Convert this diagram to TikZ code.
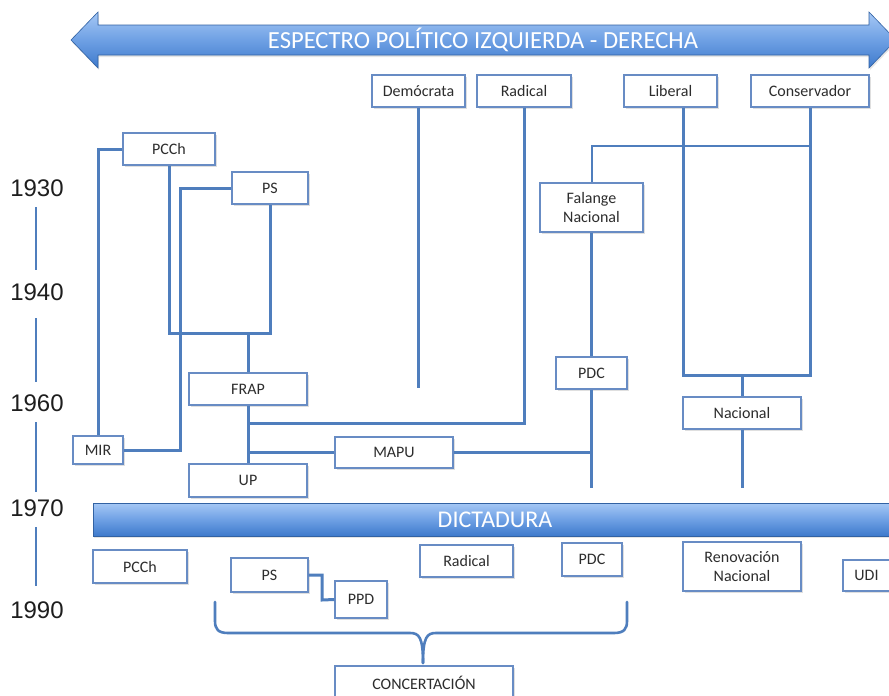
\documentclass[tikz,border=0pt]{standalone}
\usepackage{fontspec}
\setmainfont{Carlito}
\newfontfamily\yearfont{Liberation Sans}
\usetikzlibrary{shadows}
\definecolor{conncol}{RGB}{79,126,189}
\definecolor{boxcol}{RGB}{104,140,196}
\definecolor{txtcol}{RGB}{45,45,45}
\definecolor{gradtop}{RGB}{166,200,245}
\definecolor{gradmid}{RGB}{110,160,228}
\definecolor{gradbot}{RGB}{62,122,204}
\definecolor{yearcol}{RGB}{30,30,30}
\begin{document}
\begin{tikzpicture}[x=1pt,y=-1pt,
  pbox/.style={draw=boxcol,line width=1.1pt,fill=white,inner sep=0pt,
    text=txtcol,font=\fontsize{16}{19}\selectfont,align=center,
    drop shadow={opacity=0.25,shadow xshift=1.5pt,shadow yshift=-1.5pt}},
  conn/.style={draw=conncol,line width=3pt},
  thinconn/.style={draw=conncol,line width=2pt},
  yearline/.style={draw=conncol,line width=2.6pt},
  yearlab/.style={font=\yearfont\fontsize{24}{24}\selectfont,text=yearcol,inner sep=0pt},
  bartext/.style={font=\fontsize{24.6}{25}\selectfont,text=white,inner sep=0pt},
  gradfill/.style={top color=gradtop,bottom color=gradbot,middle color=gradmid,
    draw=gradbot!80!black,line width=0.6pt,
    drop shadow={opacity=0.2,shadow xshift=1pt,shadow yshift=-2pt}}]
\clip (0,0) rectangle (889,696);
\fill[white] (0,0) rectangle (889,696);

% top arrow
\path[gradfill] (71,40) -- (98,12) -- (98,25) -- (869,25) -- (869,12) -- (896,40)
  -- (869,68) -- (869,55) -- (98,55) -- (98,68) -- cycle;
\node[bartext] (spec) at (483,40) {ESPECTRO POLÍTICO IZQUIERDA - DERECHA};

% dictadura bar
\node[gradfill,inner sep=0pt,minimum width=804pt,minimum height=33pt,
  font=\fontsize{24}{24}\selectfont,text=white] (dict) at (495,519.5) {DICTADURA};

% years
\node[yearlab] (y1930) at (37,188) {1930};
\node[yearlab] (y1940) at (37,292) {1940};
\node[yearlab] (y1960) at (37,403) {1960};
\node[yearlab] (y1970) at (37,508) {1970};
\node[yearlab] (y1990) at (37,610) {1990};
\draw[yearline] (36,207) -- (36,270);
\draw[yearline] (36,318) -- (36,382);
\draw[yearline] (36,422) -- (36,492);
\draw[yearline] (36,527) -- (36,586);

% boxes upper
\node[pbox,minimum width=93pt,minimum height=32pt] (dem) at (418.5,91) {Demócrata};
\node[pbox,minimum width=94pt,minimum height=32pt] (rad) at (524,91) {Radical};
\node[pbox,minimum width=93pt,minimum height=32pt] (lib) at (670.5,91) {Liberal};
\node[pbox,minimum width=118pt,minimum height=32pt] (con) at (810,91) {Conservador};
\node[pbox,minimum width=92pt,minimum height=32pt] (pcch) at (169,149) {PCCh};
\node[pbox,minimum width=76pt,minimum height=32pt] (ps) at (270,188) {PS};
\node[pbox,minimum width=103pt,minimum height=49pt] (fal) at (591.5,207.5) {Falange\\Nacional};
\node[pbox,minimum width=118pt,minimum height=32pt] (frap) at (248,389) {FRAP};
\node[pbox,minimum width=71pt,minimum height=32pt] (pdc) at (591.5,373) {PDC};
\node[pbox,minimum width=118pt,minimum height=32pt] (nac) at (742,413) {Nacional};
\node[pbox,minimum width=50pt,minimum height=28pt] (mir) at (98,450) {MIR};
\node[pbox,minimum width=118pt,minimum height=31pt] (mapu) at (394,452.5) {MAPU};
\node[pbox,minimum width=118pt,minimum height=33pt] (up) at (248,480.5) {UP};

% boxes lower
\node[pbox,minimum width=94pt,minimum height=33pt] (pcchb) at (140,566.5) {PCCh};
\node[pbox,minimum width=77pt,minimum height=34pt] (psb) at (269.5,575) {PS};
\node[pbox,minimum width=52pt,minimum height=37pt] (ppd) at (361,599.5) {PPD};
\node[pbox,minimum width=93pt,minimum height=32pt] (radb) at (466.5,561) {Radical};
\node[pbox,minimum width=60pt,minimum height=33pt] (pdcb) at (592,559.5) {PDC};
\node[pbox,minimum width=118pt,minimum height=49pt] (ren) at (742,566.5) {Renovación\\Nacional};
\node[pbox,minimum width=47pt,minimum height=31pt] (udi) at (866.5,575.5) {UDI};
\node[pbox,minimum width=178pt,minimum height=34pt] (conc) at (424,683) {CONCERTACIÓN};

% junction coordinates
\coordinate (jfrap) at (248,333);
\coordinate (jps) at (180,450);
\coordinate (jrad) at (248,423);
\coordinate (jmapu) at (248,452.5);
\coordinate (jmapur) at (591.5,452.5);
\coordinate (demend) at (418.5,388);
\coordinate (jnac) at (742,375);
\coordinate (jcon) at (810,146);
\coordinate (pdcend) at (591.5,488);
\coordinate (nacend) at (742,488);
\coordinate (jppd) at (322,600);

% connectors
\draw[conn] (pcch.west) -| (mir.north);
\draw[conn] (pcch.south) |- (jfrap) -| (ps.south);
\draw[conn] (jfrap) -- (frap.north);
\draw[conn] (ps.west) -| (jps) -- (mir.east);
\draw[conn] (frap.south) -- (up.north);
\draw[conn] (rad.south) |- (jrad);
\draw[conn] (jmapu) -- (mapu.west);
\draw[conn] (mapu.east) -- (jmapur);
\draw[conn] (dem.south) -- (demend);
\draw[conn] ([xshift=12.5pt]lib.south) |- (jnac);
\draw[conn] (con.south) |- (jnac);
\draw[conn] (jnac) -- (nac.north);
\draw[thinconn] (jcon) -| (fal.north);
\draw[conn] (fal.south) -- (pdc.north);
\draw[conn] (pdc.south) -- (pdcend);
\draw[conn] (nac.south) -- (nacend);
\draw[conn] (psb.east) -| (jppd) -- (ppd.west);

% brace
\draw[conncol,line width=2.6pt,line cap=round]
  (215,602) -- (215,621) .. controls (215,629) and (218,633) .. (228,633)
  -- (410,633) .. controls (419,633) and (423,637) .. (423,663);
\draw[conncol,line width=2.6pt,line cap=round]
  (627,602) -- (627,621) .. controls (627,629) and (624,633) .. (614,633)
  -- (436,633) .. controls (427,633) and (423,637) .. (423,663);
\end{tikzpicture}
\end{document}
